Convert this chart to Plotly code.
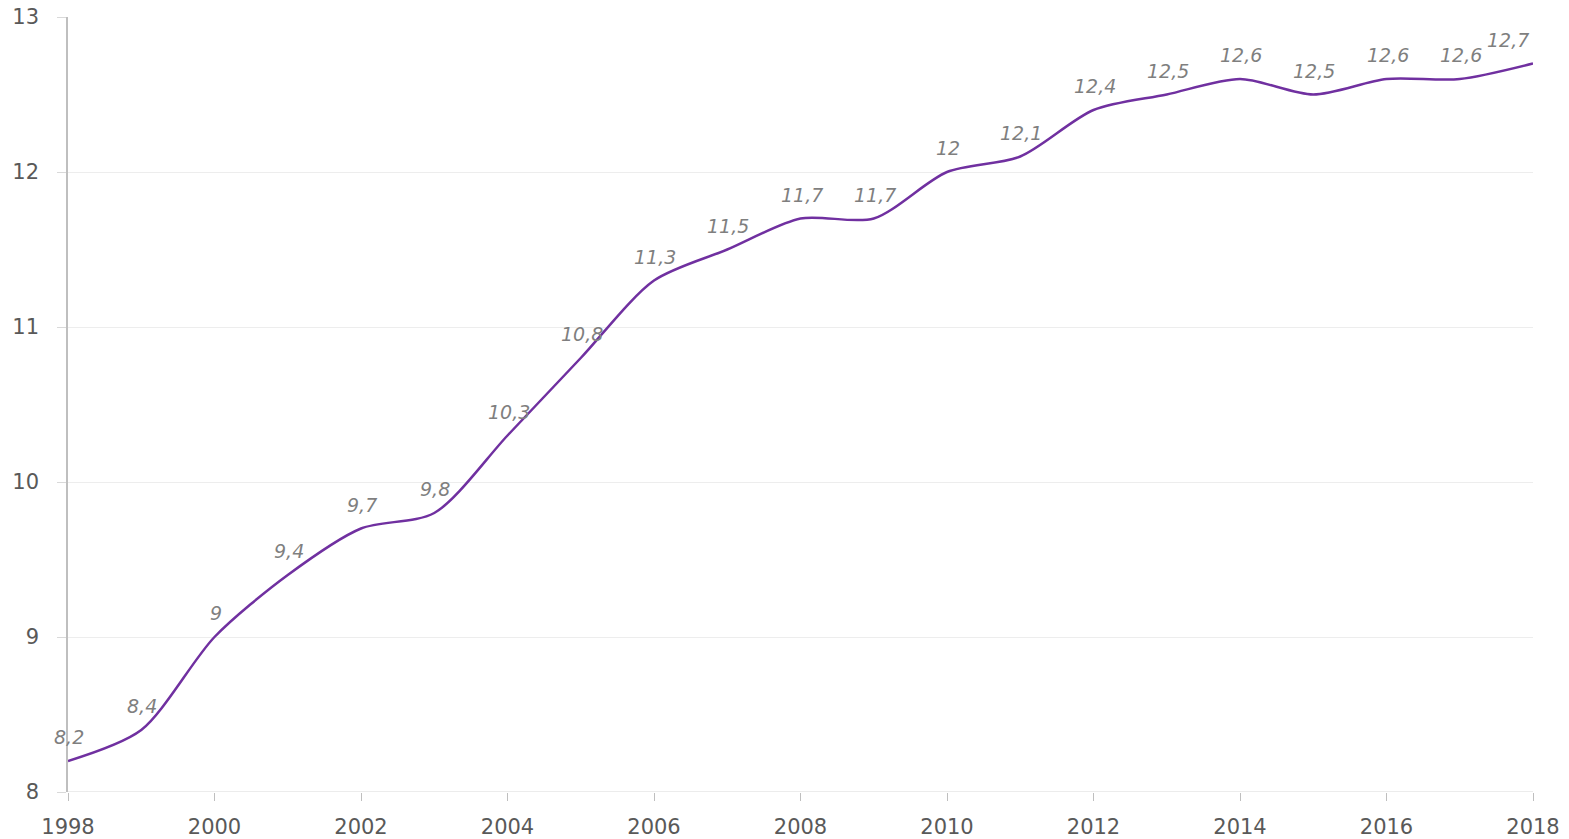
import plotly.graph_objects as go

years = list(range(1998, 2019))
values = [8.2, 8.4, 9.0, 9.4, 9.7, 9.8, 10.3, 10.8, 11.3, 11.5, 11.7, 11.7, 12.0, 12.1, 12.4, 12.5, 12.6, 12.5, 12.6, 12.6, 12.7]
labels = [("%g" % v).replace(".", ",") for v in values]
x_ticks = list(range(1998, 2019, 2))
y_ticks = [8, 9, 10, 11, 12, 13]

fig = go.Figure()
fig.add_trace(go.Scatter(
    x=years, y=values, mode="lines",
    line=dict(color="#7030A0", width=2.5, shape="spline", smoothing=0.8),
    hoverinfo="skip",
))
for i, (xv, yv, lab) in enumerate(zip(years, values, labels)):
    last = i == len(years) - 1
    fig.add_annotation(
        x=xv, y=yv, text=lab, showarrow=False,
        xanchor="right" if last else "center", yanchor="middle",
        xshift=-2 if last else 1, yshift=24,
        font=dict(family="DejaVu Sans", size=19, color="#7F7F7F", style="italic"),
    )
fig.update_layout(
    width=1569, height=839,
    margin=dict(l=68, r=36, t=17, b=47, autoexpand=False),
    plot_bgcolor="white", paper_bgcolor="white",
    showlegend=False,
    font=dict(family="DejaVu Sans", color="#595959", size=21),
)
fig.update_xaxes(
    range=[1998, 2018], tickvals=x_ticks, ticktext=[str(t) for t in x_ticks],
    showgrid=False, showline=False, zeroline=False, automargin=False,
    ticks="outside", ticklen=8, tickcolor="#BFBFBF", tickwidth=1,
    ticklabelstandoff=8, ticklabeloverflow="allow",
)
fig.update_yaxes(
    range=[8, 13], tickvals=y_ticks, automargin=False,
    tickfont=dict(size=21),
    showgrid=True, gridcolor="#EDEDED", gridwidth=1,
    showline=True, linecolor="#BFBFBF", linewidth=1.5, zeroline=False,
    ticks="outside", ticklen=9, tickcolor="#D9D9D9", tickwidth=1,
    ticklabelstandoff=14, ticklabeloverflow="allow",
)
fig.add_shape(type="line", xref="paper", yref="y", x0=0, x1=1, y0=8, y1=8,
              line=dict(color="#D9D9D9", width=1), layer="below")
fig.write_html("out.html", config={"displayModeBar": False},
               post_script="document.body.style.margin='0';document.body.style.overflow='hidden';")
